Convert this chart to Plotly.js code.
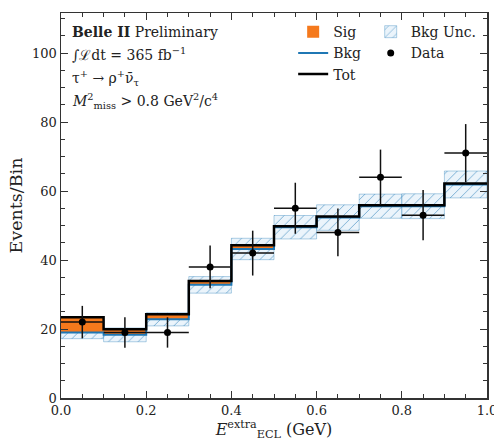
<!DOCTYPE html>
<html>
<head>
<meta charset="utf-8">
<script src="https://cdn.plot.ly/plotly-3.0.1.min.js"></script>
<style>html,body{margin:0;padding:0;background:#fff;}#chart{width:494px;height:441px;}</style>
</head>
<body>
<div id="chart"></div>
<script>
// Bin centres of E_ECL^extra (GeV), bin width 0.1
const binCenters = [0.05, 0.15, 0.25, 0.35, 0.45, 0.55, 0.65, 0.75, 0.85, 0.95];
const binEdges = [0.0, 0.1, 0.2, 0.3, 0.4, 0.5, 0.6, 0.7, 0.8, 0.9, 1.0];
// Background expectation and its uncertainty
const bkg = [19.0, 18.3, 22.8, 32.8, 43.2, 49.5, 52.3, 55.6, 55.6, 61.9];
const bkgUnc = [1.8, 2.0, 1.9, 2.4, 3.1, 3.4, 3.7, 3.5, 3.6, 3.9];
// Signal expectation
const sig = [4.4, 1.6, 1.5, 1.1, 1.1, 0.3, 0.3, 0.3, 0.3, 0.3];
// Observed data and errors
const dataVals = [22, 19, 19, 38, 42, 55, 48, 64, 53, 71];
const dataErr = [4.7, 4.4, 4.4, 6.2, 6.5, 7.4, 6.9, 8.0, 7.3, 8.4];

const tot = bkg.map((b, i) => b + sig[i]);
const stepY = arr => arr.concat([arr[arr.length - 1]]);

const FONT = 'DejaVu Serif, serif';
const BLUE = '#1f77b4';
const ORANGE = '#f5791c';

const traces = [
  {
    type: 'bar', name: 'Bkg Unc.', legend: 'legend2',
    x: binCenters, base: bkg.map((b, i) => b - bkgUnc[i]), y: bkgUnc.map(u => 2 * u),
    width: 0.1,
    marker: {
      color: 'rgba(214,232,246,0.55)',
      line: {color: 'rgba(31,119,180,0.35)', width: 1},
      pattern: {shape: '/', fgcolor: 'rgba(31,119,180,0.55)', bgcolor: 'rgba(221,236,248,0.6)', size: 7, solidity: 0.14, fillmode: 'replace'}
    },
    hoverinfo: 'skip'
  },
  {
    type: 'bar', name: 'Sig', legend: 'legend',
    x: binCenters, base: bkg, y: sig, width: 0.1,
    marker: {color: ORANGE, line: {width: 0}},
    hoverinfo: 'skip'
  },
  {
    type: 'scatter', mode: 'lines', name: 'Bkg', legend: 'legend',
    x: binEdges, y: stepY(bkg),
    line: {shape: 'hv', color: BLUE, width: 2}
  },
  {
    type: 'scatter', mode: 'lines', name: 'Tot', legend: 'legend',
    x: binEdges, y: stepY(tot),
    line: {shape: 'hv', color: '#000', width: 2.5}
  },
  {
    type: 'scatter', mode: 'markers', name: 'Data', legend: 'legend2',
    x: binCenters, y: dataVals,
    marker: {color: '#000', size: 7, symbol: 'circle'},
    error_y: {type: 'data', array: dataErr, visible: true, color: '#111', thickness: 1.5, width: 0},
    error_x: {type: 'constant', value: 0.05, visible: true, color: '#111', thickness: 1.5, width: 0}
  }
];

const yp = pix => (398 - pix) / 385;

const layout = {
  width: 494, height: 441,
  margin: {l: 61, r: 7, t: 13, b: 43},
  paper_bgcolor: '#fff', plot_bgcolor: '#fff',
  barmode: 'overlay',
  font: {family: FONT, size: 13, color: '#222'},
  showlegend: true,
  legend: {x: 0.545, y: 0.992, xanchor: 'left', yanchor: 'top', bgcolor: 'rgba(0,0,0,0)',
           font: {family: FONT, size: 14, color: '#222'}, tracegroupgap: 0, itemwidth: 30},
  legend2: {x: 0.727, y: 0.992, xanchor: 'left', yanchor: 'top', bgcolor: 'rgba(0,0,0,0)',
           font: {family: FONT, size: 14, color: '#222'}, tracegroupgap: 0, itemwidth: 30},
  xaxis: {
    range: [0, 1], dtick: 0.2, tickformat: '.1f',
    ticks: 'inside', ticklen: 7, tickwidth: 1, tickcolor: '#333',
    showline: true, linecolor: '#333', linewidth: 1.5, mirror: 'allticks',
    showgrid: false, zeroline: false, ticklabeloverflow: 'allow',
    minor: {ticks: 'inside', dtick: 0.05, ticklen: 4, tickcolor: '#333', showgrid: false},
    tickfont: {family: FONT, size: 13, color: '#222'},
    title: {text: '<i>E</i><sup>extra</sup><sub>ECL</sub> (GeV)', font: {family: FONT, size: 16, color: '#222'}, standoff: 4}
  },
  yaxis: {
    range: [0, 111.6], dtick: 20,
    ticks: 'inside', ticklen: 7, tickwidth: 1, tickcolor: '#333',
    showline: true, linecolor: '#333', linewidth: 1.5, mirror: 'allticks',
    showgrid: false, zeroline: false, ticklabeloverflow: 'allow',
    minor: {ticks: 'inside', dtick: 5, ticklen: 4, tickcolor: '#333', showgrid: false},
    tickfont: {family: FONT, size: 13, color: '#222'},
    title: {text: 'Events/Bin', font: {family: FONT, size: 17.5, color: '#222'}, standoff: 5}
  },
  annotations: [
    {xref: 'paper', yref: 'paper', x: 0.02, y: yp(32), xanchor: 'left', yanchor: 'middle', showarrow: false,
     text: '<b>Belle II</b> Preliminary', font: {family: FONT, size: 14, color: '#222'}},
    {xref: 'paper', yref: 'paper', x: 0.02, y: yp(54), xanchor: 'left', yanchor: 'middle', showarrow: false,
     text: '∫ℒdt = 365 fb<sup>−1</sup>', font: {family: FONT, size: 14, color: '#222'}},
    {xref: 'paper', yref: 'paper', x: 0.02, y: yp(78), xanchor: 'left', yanchor: 'middle', showarrow: false,
     text: 'τ<sup>+</sup> → ρ<sup>+</sup>ν̄<sub>τ</sub>', font: {family: FONT, size: 14, color: '#222'}},
    {xref: 'paper', yref: 'paper', x: 0.02, y: yp(101), xanchor: 'left', yanchor: 'middle', showarrow: false,
     text: '<i>M</i><sup>2</sup><sub>miss</sub> > 0.8 GeV<sup>2</sup>/c<sup>4</sup>', font: {family: FONT, size: 14, color: '#222'}}
  ]
};

Plotly.newPlot('chart', traces, layout, {displayModeBar: false, staticPlot: true});
</script>
</body>
</html>
